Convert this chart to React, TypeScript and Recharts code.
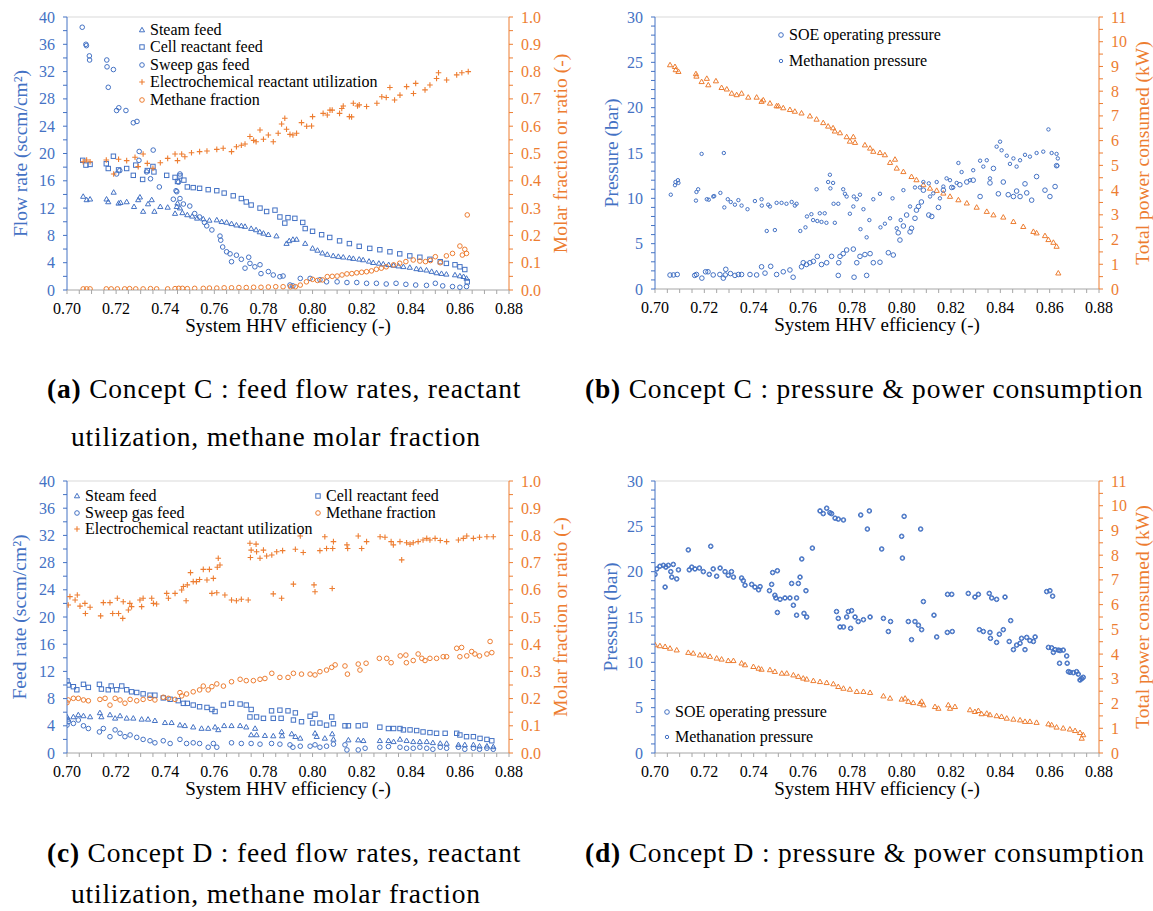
import React from 'react';
import { ScatterChart, Scatter, XAxis, YAxis, Legend, ReferenceLine } from 'recharts';

type P = [number, number];
type Kind = 'tri' | 'sq' | 'circ' | 'plus' | 'small' | 'bold';

const BLUE = '#4472C4';
const ORANGE = '#ED7D31';
const GRAY = '#A6A6A6';
const FONT = "'Liberation Serif', 'Times New Roman', Times, serif";

// ---------- tick labels ----------
const xMajor = [0.70, 0.72, 0.74, 0.76, 0.78, 0.80, 0.82, 0.84, 0.86, 0.88];
const xLabels = ['0.70', '0.72', '0.74', '0.76', '0.78', '0.80', '0.82', '0.84', '0.86', '0.88'];
const flowMajor = [0, 4, 8, 12, 16, 20, 24, 28, 32, 36, 40];
const flowLabels = ['0', '4', '8', '12', '16', '20', '24', '28', '32', '36', '40'];
const fracMajor = [0, 0.1, 0.2, 0.3, 0.4, 0.5, 0.6, 0.7, 0.8, 0.9, 1.0];
const fracLabels = ['0.0', '0.1', '0.2', '0.3', '0.4', '0.5', '0.6', '0.7', '0.8', '0.9', '1.0'];
const presMajor = [0, 5, 10, 15, 20, 25, 30];
const presLabels = ['0', '5', '10', '15', '20', '25', '30'];
const powMajor = [0, 1, 2, 3, 4, 5, 6, 7, 8, 9, 10, 11];
const powLabels = ['0', '1', '2', '3', '4', '5', '6', '7', '8', '9', '10', '11'];

// ---------- Concept C (a) ----------
const steamA: P[] = [[0.7066,13.7],[0.708,13.2],[0.7094,13.3],[0.7161,13.3],[0.7168,12.9],[0.719,14.3],[0.721,12.7],[0.7218,12.8],[0.7243,12.9],[0.7273,12.2],[0.729,13.2],[0.7297,13.6],[0.731,11.5],[0.733,12.6],[0.7345,13.2],[0.7356,11.5],[0.738,12.2],[0.741,12.1],[0.744,11.2],[0.7447,12.2],[0.745,12.7],[0.746,12.0],[0.747,11.3],[0.749,11.0],[0.751,10.8],[0.753,10.5],[0.7555,10.4],[0.758,10.2],[0.761,10.25],[0.763,10.0],[0.765,9.9],[0.767,9.7],[0.769,9.5],[0.771,9.4],[0.7725,9.3],[0.775,9.0],[0.777,8.8],[0.7785,8.5],[0.780,8.3],[0.782,8.1],[0.7853,7.9],[0.7894,6.8],[0.7905,7.2],[0.792,7.4],[0.7935,7.4],[0.797,6.8],[0.800,6.1],[0.802,5.8],[0.804,5.4],[0.806,5.2],[0.8084,5.0],[0.8105,4.9],[0.8125,4.8],[0.815,4.7],[0.8166,4.6],[0.819,4.5],[0.8206,4.4],[0.823,4.2],[0.8247,4.0],[0.827,3.9],[0.8288,3.8],[0.831,3.7],[0.833,3.6],[0.835,3.5],[0.837,3.4],[0.8396,3.3],[0.8423,3.1],[0.844,3.0],[0.8464,2.9],[0.8485,2.7],[0.8505,2.5],[0.8525,2.4],[0.8545,2.3],[0.858,2.2],[0.86,2.05],[0.8615,1.95],[0.8627,1.7]];
const cellA: P[] = [[0.7064,19.0],[0.7077,18.3],[0.7094,18.4],[0.716,18.5],[0.7168,17.8],[0.7189,19.6],[0.721,17.6],[0.7243,17.8],[0.727,16.8],[0.728,18.3],[0.7308,16.2],[0.7327,17.5],[0.735,18.1],[0.7354,17.3],[0.7406,16.8],[0.744,16.5],[0.745,15.9],[0.746,16.7],[0.7476,16.1],[0.749,15.1],[0.7514,15.0],[0.754,14.9],[0.7575,14.7],[0.761,14.55],[0.764,14.2],[0.7677,13.8],[0.771,13.4],[0.773,12.9],[0.775,12.45],[0.7786,12.0],[0.7813,11.5],[0.7847,11.7],[0.7867,10.7],[0.7887,9.8],[0.79,10.6],[0.7928,10.5],[0.796,9.9],[0.797,9.0],[0.80,8.6],[0.8037,8.1],[0.807,7.7],[0.811,7.2],[0.815,6.8],[0.819,6.4],[0.8233,6.1],[0.8274,5.9],[0.8315,5.6],[0.8355,5.3],[0.8396,5.0],[0.8437,4.8],[0.8478,4.5],[0.852,4.15],[0.8545,3.9],[0.858,3.7],[0.86,3.4],[0.862,3.0],[0.863,1.2]];
const sweepA: P[] = [[0.7062,38.5],[0.7077,36.0],[0.7079,35.8],[0.7091,34.3],[0.7092,33.7],[0.7162,33.7],[0.7163,32.7],[0.7189,32.3],[0.7168,29.7],[0.7202,26.3],[0.7211,26.7],[0.724,26.3],[0.727,24.5],[0.7285,24.7],[0.7294,20.3],[0.7293,19.0],[0.7351,20.5],[0.7202,17.0],[0.7215,17.5],[0.7324,17.3],[0.734,16.3],[0.7376,15.1],[0.7447,14.4],[0.7454,15.8],[0.746,17.0],[0.7444,14.55],[0.7433,13.3],[0.746,13.4],[0.7474,12.6],[0.75,12.3],[0.752,11.2],[0.754,10.7],[0.756,9.9],[0.7569,9.4],[0.759,8.8],[0.7623,7.9],[0.7626,7.3],[0.7634,6.3],[0.765,5.6],[0.7664,5.3],[0.767,4.15],[0.769,5.1],[0.771,4.5],[0.7725,3.2],[0.774,4.8],[0.7745,3.9],[0.7765,3.4],[0.7786,3.7],[0.779,2.4],[0.782,2.7],[0.784,2.2],[0.7867,1.95],[0.788,2.05],[0.7908,0.73],[0.792,0.6],[0.795,1.7],[0.799,1.7],[0.803,1.5],[0.8057,1.2],[0.81,1.2],[0.814,1.1],[0.818,1.1],[0.822,0.98],[0.826,0.98],[0.83,0.88],[0.834,0.98],[0.838,0.83],[0.842,0.73],[0.8464,0.68],[0.85,0.98],[0.853,0.6],[0.857,0.5],[0.86,0.4],[0.8627,0.5]];
const elecA: P[] = [[0.7066,0.47],[0.708,0.476],[0.7094,0.47],[0.716,0.476],[0.719,0.425],[0.721,0.479],[0.7243,0.474],[0.7277,0.486],[0.729,0.452],[0.731,0.498],[0.7327,0.464],[0.735,0.446],[0.738,0.466],[0.741,0.482],[0.744,0.498],[0.745,0.474],[0.7467,0.498],[0.748,0.488],[0.7507,0.503],[0.754,0.507],[0.757,0.509],[0.761,0.515],[0.7636,0.519],[0.767,0.507],[0.769,0.525],[0.771,0.53],[0.7725,0.535],[0.7745,0.562],[0.776,0.548],[0.777,0.543],[0.7786,0.586],[0.78,0.552],[0.782,0.568],[0.784,0.543],[0.786,0.574],[0.7874,0.608],[0.7887,0.629],[0.7894,0.589],[0.7908,0.57],[0.792,0.568],[0.7935,0.574],[0.7955,0.613],[0.7976,0.6],[0.7996,0.601],[0.80,0.635],[0.8043,0.647],[0.806,0.641],[0.8071,0.659],[0.808,0.659],[0.811,0.647],[0.8119,0.665],[0.8125,0.674],[0.815,0.635],[0.8159,0.634],[0.8166,0.684],[0.8183,0.674],[0.819,0.678],[0.822,0.672],[0.8262,0.684],[0.8282,0.708],[0.83,0.705],[0.8315,0.742],[0.8334,0.696],[0.8356,0.714],[0.8383,0.745],[0.8411,0.72],[0.842,0.757],[0.8458,0.733],[0.8478,0.751],[0.8505,0.775],[0.8513,0.796],[0.8546,0.769],[0.8587,0.788],[0.8608,0.796],[0.8634,0.8]];
const methA: P[] = [[0.7066,0.004],[0.708,0.004],[0.7094,0.004],[0.716,0.004],[0.718,0.004],[0.7205,0.004],[0.7235,0.004],[0.7255,0.005],[0.728,0.004],[0.731,0.004],[0.734,0.005],[0.7365,0.004],[0.741,0.004],[0.744,0.005],[0.7455,0.006],[0.747,0.006],[0.749,0.005],[0.752,0.006],[0.7555,0.006],[0.758,0.007],[0.761,0.007],[0.764,0.008],[0.767,0.008],[0.77,0.009],[0.773,0.009],[0.776,0.010],[0.779,0.010],[0.782,0.011],[0.785,0.012],[0.788,0.012],[0.791,0.012],[0.793,0.012],[0.795,0.018],[0.7975,0.03],[0.80,0.039],[0.802,0.035],[0.804,0.037],[0.806,0.049],[0.808,0.05],[0.81,0.051],[0.812,0.055],[0.814,0.059],[0.816,0.06],[0.818,0.063],[0.82,0.065],[0.822,0.067],[0.824,0.07],[0.826,0.076],[0.828,0.08],[0.830,0.085],[0.833,0.092],[0.8355,0.098],[0.838,0.104],[0.841,0.11],[0.8437,0.106],[0.846,0.104],[0.848,0.108],[0.85,0.122],[0.852,0.1],[0.8545,0.125],[0.857,0.134],[0.86,0.161],[0.861,0.128],[0.862,0.149],[0.8627,0.134],[0.863,0.275]];

// ---------- Concept C (b) ----------
const soeB: P[] = [[0.7061,1.54],[0.7075,1.55],[0.709,1.6],[0.7161,1.5],[0.7168,1.6],[0.719,1.2],[0.7205,1.9],[0.7215,1.9],[0.7236,1.55],[0.7263,1.6],[0.7277,1.2],[0.7285,1.55],[0.7287,2.17],[0.7306,1.7],[0.7324,1.5],[0.7338,1.6],[0.7351,1.6],[0.7385,1.6],[0.7412,1.55],[0.7432,2.45],[0.7446,1.75],[0.7469,2.5],[0.7493,1.6],[0.752,1.9],[0.7547,2.1],[0.756,1.3],[0.7594,2.45],[0.7601,2.9],[0.7614,2.7],[0.7628,2.9],[0.7642,3.05],[0.7658,3.6],[0.7675,2.7],[0.7696,2.9],[0.7716,3.6],[0.7743,1.5],[0.7745,2.9],[0.775,3.6],[0.7763,3.9],[0.7777,4.3],[0.7804,4.4],[0.7807,1.3],[0.7818,2.9],[0.7831,3.6],[0.7851,3.8],[0.7858,1.5],[0.7872,3.9],[0.7885,2.9],[0.7912,2.95],[0.7946,4.0],[0.7966,3.75],[0.7986,6.2],[0.7993,5.4],[0.8007,6.95],[0.802,8.16],[0.8034,6.3],[0.804,6.7],[0.8054,7.8],[0.806,8.7],[0.8068,9.1],[0.808,9.6],[0.8088,10.9],[0.811,8.16],[0.8122,8.0],[0.8149,9.0],[0.8169,10.9],[0.8203,11.2],[0.8236,11.5],[0.8264,11.8],[0.829,12.0],[0.8318,10.2],[0.8358,11.7],[0.8372,13.3],[0.8392,10.5],[0.8412,11.8],[0.8432,10.4],[0.8453,10.2],[0.8466,10.8],[0.848,10.2],[0.85,11.6],[0.8507,10.6],[0.8527,9.8],[0.8547,12.4],[0.8581,10.9],[0.8601,10.2],[0.8622,11.3],[0.8628,13.6]];
const methPB: P[] = [[0.7064,10.4],[0.7081,11.45],[0.7083,11.8],[0.7095,11.7],[0.7093,12.0],[0.7166,9.75],[0.7168,10.7],[0.7175,11.0],[0.7189,14.9],[0.721,9.9],[0.7218,9.85],[0.7236,10.2],[0.724,10.25],[0.7265,10.6],[0.7279,15.0],[0.7281,9.0],[0.7295,9.9],[0.7307,9.6],[0.7324,9.3],[0.7338,9.8],[0.7351,9.2],[0.7375,8.8],[0.7405,9.7],[0.7432,9.9],[0.7433,9.2],[0.7453,6.4],[0.7459,9.3],[0.7466,9.1],[0.7486,6.5],[0.7493,9.5],[0.7513,9.5],[0.7533,9.4],[0.7554,9.6],[0.7567,9.2],[0.7574,9.4],[0.7589,6.4],[0.761,6.8],[0.7616,8.0],[0.7634,8.25],[0.7641,7.6],[0.7655,11.0],[0.7658,7.5],[0.7668,8.35],[0.7675,7.4],[0.7688,8.35],[0.7695,7.3],[0.7702,11.8],[0.7709,12.6],[0.7711,11.1],[0.7722,11.7],[0.7724,9.4],[0.7729,7.3],[0.7743,9.4],[0.7763,11.0],[0.777,10.5],[0.7777,10.2],[0.779,8.3],[0.7804,9.1],[0.7806,10.2],[0.7818,9.9],[0.7831,10.4],[0.7833,6.6],[0.7845,8.8],[0.7858,5.7],[0.7869,7.6],[0.7885,9.9],[0.7912,10.5],[0.7914,6.8],[0.7932,7.2],[0.7953,7.8],[0.7963,10.0],[0.798,6.7],[0.7996,7.6],[0.8007,10.9],[0.8034,9.1],[0.8054,11.2],[0.8074,11.2],[0.8088,11.8],[0.811,11.65],[0.8115,10.2],[0.8128,10.55],[0.8142,11.8],[0.8155,10.0],[0.8169,11.3],[0.8182,12.2],[0.8196,12.0],[0.8209,11.2],[0.8223,11.7],[0.823,13.9],[0.8243,12.9],[0.8277,12.0],[0.829,13.1],[0.8318,14.15],[0.8331,13.5],[0.8345,14.2],[0.8358,12.2],[0.8385,15.7],[0.8399,16.25],[0.8405,15.3],[0.8426,14.7],[0.8439,13.8],[0.8453,14.4],[0.8466,13.5],[0.848,14.2],[0.85,14.8],[0.852,14.6],[0.8547,15.0],[0.8574,15.15],[0.8595,17.6],[0.8608,15.0],[0.8628,14.9],[0.8631,13.6],[0.8633,14.4]];
const powerB: P[] = [[0.7061,9.06],[0.7081,8.99],[0.7084,8.86],[0.7095,8.79],[0.7166,8.7],[0.7168,8.6],[0.7189,8.38],[0.721,8.51],[0.7216,8.25],[0.7247,8.41],[0.727,8.14],[0.7291,8.08],[0.7311,7.91],[0.7331,7.85],[0.7351,7.91],[0.7378,7.75],[0.7412,7.75],[0.7432,7.58],[0.7439,7.64],[0.7466,7.51],[0.7493,7.4],[0.75,7.40],[0.752,7.32],[0.7547,7.25],[0.7567,7.18],[0.7594,7.11],[0.7628,6.99],[0.7655,6.86],[0.7682,6.72],[0.7702,6.58],[0.7722,6.51],[0.7729,6.38],[0.775,6.31],[0.7777,6.15],[0.779,5.97],[0.7804,6.15],[0.7811,5.92],[0.7851,5.82],[0.7872,5.69],[0.7885,5.56],[0.7912,5.51],[0.7932,5.42],[0.7953,5.11],[0.7973,5.24],[0.798,4.88],[0.8007,4.74],[0.804,4.54],[0.806,4.41],[0.8088,4.21],[0.8115,4.07],[0.8142,3.98],[0.8169,3.87],[0.8196,3.74],[0.823,3.6],[0.8264,3.47],[0.8304,3.3],[0.8345,3.13],[0.8372,2.99],[0.8412,2.9],[0.8453,2.72],[0.8493,2.52],[0.8534,2.32],[0.8547,2.26],[0.8581,2.15],[0.8595,1.99],[0.8615,1.88],[0.8628,1.72],[0.8635,0.64]];

// ---------- Concept D (c) ----------
const steamC: P[] = [[0.700,5.3],[0.7005,4.95],[0.7026,5.3],[0.7046,5.6],[0.7067,5.45],[0.7094,5.3],[0.7134,5.9],[0.714,5.3],[0.7175,5.6],[0.7196,5.1],[0.7216,5.45],[0.7243,5.1],[0.727,5.1],[0.7304,4.95],[0.733,4.95],[0.7358,4.75],[0.7399,4.45],[0.7426,4.45],[0.746,4.1],[0.748,4.0],[0.7514,3.8],[0.7548,3.6],[0.7575,3.6],[0.7603,3.8],[0.7616,3.4],[0.764,4.0],[0.767,4.0],[0.7705,4.0],[0.773,3.8],[0.7766,3.6],[0.775,2.65],[0.7772,2.65],[0.7806,2.55],[0.784,2.5],[0.7874,3.1],[0.7876,2.5],[0.7915,2.8],[0.793,2.4],[0.795,2.15],[0.801,2.9],[0.8017,2.4],[0.805,2.15],[0.808,2.8],[0.8085,2.0],[0.8146,1.9],[0.8186,1.9],[0.8207,1.8],[0.8274,1.8],[0.8309,1.8],[0.833,1.65],[0.8356,2.0],[0.8383,1.8],[0.841,1.65],[0.8437,1.65],[0.8465,1.65],[0.849,1.5],[0.852,1.4],[0.8546,1.4],[0.8594,1.2],[0.862,1.2],[0.8655,1.2],[0.868,1.0],[0.871,1.0],[0.8736,0.9]];
const cellC: P[] = [[0.700,10.6],[0.7005,10.0],[0.7026,9.75],[0.704,9.3],[0.7067,10.1],[0.7087,9.65],[0.7132,10.1],[0.714,9.4],[0.7168,9.3],[0.718,9.85],[0.7202,9.3],[0.7223,9.85],[0.7243,9.3],[0.7263,9.0],[0.7284,8.9],[0.731,8.7],[0.7338,8.5],[0.7358,8.5],[0.7392,8.1],[0.742,7.9],[0.7453,7.7],[0.7474,7.3],[0.749,7.3],[0.7514,7.05],[0.754,6.8],[0.757,6.7],[0.759,6.4],[0.7603,6.1],[0.7637,7.05],[0.767,7.3],[0.7705,7.2],[0.773,7.05],[0.775,6.4],[0.7745,5.3],[0.7772,5.3],[0.78,5.1],[0.7833,6.2],[0.7867,6.3],[0.784,5.1],[0.7872,5.1],[0.79,6.2],[0.7922,4.85],[0.793,5.9],[0.7955,4.6],[0.799,5.4],[0.801,5.7],[0.80,4.4],[0.803,4.4],[0.8057,4.1],[0.8078,5.3],[0.8085,4.3],[0.8132,4.0],[0.8146,4.0],[0.8186,4.0],[0.8214,4.1],[0.8274,3.8],[0.8309,3.6],[0.833,3.6],[0.8356,3.6],[0.837,3.4],[0.8397,3.4],[0.8424,3.3],[0.845,3.1],[0.8478,3.0],[0.8505,2.9],[0.854,2.9],[0.8587,2.9],[0.86,2.65],[0.8627,2.4],[0.8655,2.4],[0.8682,2.15],[0.871,2.0],[0.873,1.8]];
const sweepC: P[] = [[0.700,4.1],[0.7005,4.6],[0.7026,4.35],[0.7046,4.85],[0.7067,4.0],[0.7087,3.6],[0.7132,3.1],[0.7148,3.6],[0.7175,2.4],[0.7196,3.4],[0.7216,2.9],[0.7236,2.4],[0.7257,2.65],[0.7284,2.3],[0.731,2.0],[0.7338,1.8],[0.7358,1.5],[0.7392,1.8],[0.742,1.4],[0.746,2.0],[0.7487,1.4],[0.7514,1.5],[0.754,1.4],[0.7575,0.85],[0.7596,1.4],[0.761,0.85],[0.767,1.5],[0.771,1.4],[0.775,1.4],[0.7786,1.3],[0.7833,1.4],[0.7867,1.3],[0.7908,1.2],[0.792,0.85],[0.795,1.0],[0.799,1.0],[0.801,1.2],[0.803,0.85],[0.8057,1.0],[0.8085,1.3],[0.8132,1.2],[0.814,0.45],[0.8186,0.45],[0.8214,0.7],[0.8274,0.85],[0.8309,0.95],[0.8356,0.85],[0.8383,0.7],[0.841,0.7],[0.8437,0.85],[0.8465,0.7],[0.849,0.55],[0.852,0.85],[0.8546,0.7],[0.8594,0.85],[0.862,0.55],[0.8655,0.7],[0.868,0.55],[0.871,0.7],[0.8736,0.55]];
const elecC: P[] = [[0.7005,0.544],[0.7012,0.575],[0.7033,0.5625],[0.7042,0.581],[0.7053,0.54],[0.7073,0.55],[0.7075,0.513],[0.7094,0.536],[0.7137,0.504],[0.7148,0.553],[0.7175,0.553],[0.7186,0.513],[0.7205,0.569],[0.721,0.513],[0.7227,0.495],[0.7229,0.556],[0.725,0.526],[0.7256,0.55],[0.7263,0.538],[0.7297,0.5625],[0.7304,0.538],[0.731,0.569],[0.7345,0.569],[0.7352,0.55],[0.7365,0.548],[0.7406,0.587],[0.7413,0.569],[0.744,0.587],[0.7467,0.599],[0.7474,0.612],[0.7485,0.56],[0.749,0.618],[0.7503,0.663],[0.7514,0.63],[0.7527,0.63],[0.754,0.638],[0.7555,0.675],[0.757,0.636],[0.758,0.675],[0.759,0.587],[0.7596,0.642],[0.761,0.589],[0.7612,0.683],[0.7616,0.716],[0.7623,0.691],[0.7643,0.581],[0.767,0.5625],[0.769,0.56],[0.771,0.565],[0.7738,0.5625],[0.7745,0.771],[0.775,0.746],[0.7747,0.719],[0.777,0.768],[0.7772,0.74],[0.7786,0.716],[0.78,0.746],[0.7813,0.724],[0.7834,0.728],[0.784,0.585],[0.7854,0.74],[0.7874,0.569],[0.7878,0.744],[0.7922,0.621],[0.793,0.749],[0.795,0.798],[0.7962,0.737],[0.8006,0.618],[0.801,0.593],[0.803,0.744],[0.805,0.795],[0.8057,0.752],[0.808,0.605],[0.8082,0.752],[0.8085,0.777],[0.814,0.765],[0.8143,0.752],[0.8186,0.798],[0.82,0.752],[0.822,0.777],[0.8275,0.795],[0.8295,0.793],[0.832,0.777],[0.8329,0.765],[0.8356,0.777],[0.8363,0.71],[0.8383,0.773],[0.8397,0.768],[0.841,0.773],[0.843,0.777],[0.845,0.783],[0.8465,0.789],[0.8478,0.783],[0.8499,0.789],[0.852,0.781],[0.8546,0.777],[0.8594,0.783],[0.8614,0.789],[0.8628,0.798],[0.8655,0.789],[0.868,0.793],[0.871,0.795],[0.8736,0.795]];
const methC: P[] = [[0.700,0.185],[0.7005,0.195],[0.7026,0.201],[0.7046,0.201],[0.7067,0.195],[0.7087,0.192],[0.7134,0.197],[0.7155,0.201],[0.7175,0.176],[0.7196,0.201],[0.7216,0.195],[0.7236,0.183],[0.7257,0.197],[0.7284,0.192],[0.731,0.197],[0.7338,0.201],[0.7358,0.195],[0.7392,0.205],[0.7413,0.201],[0.744,0.197],[0.746,0.222],[0.7467,0.21],[0.7487,0.217],[0.7514,0.225],[0.754,0.232],[0.7555,0.246],[0.7575,0.232],[0.759,0.244],[0.761,0.254],[0.7637,0.246],[0.767,0.262],[0.7705,0.271],[0.773,0.266],[0.7759,0.266],[0.7786,0.271],[0.7806,0.274],[0.7834,0.293],[0.7867,0.278],[0.79,0.278],[0.7922,0.293],[0.7955,0.29],[0.799,0.29],[0.801,0.287],[0.803,0.299],[0.8057,0.305],[0.8078,0.315],[0.8092,0.324],[0.8132,0.32],[0.8142,0.29],[0.8186,0.327],[0.8193,0.305],[0.8218,0.33],[0.8272,0.348],[0.8302,0.348],[0.832,0.332],[0.8357,0.357],[0.838,0.36],[0.8382,0.332],[0.841,0.34],[0.843,0.364],[0.8445,0.348],[0.8458,0.34],[0.8478,0.348],[0.8505,0.348],[0.8532,0.354],[0.8546,0.354],[0.8587,0.385],[0.8607,0.388],[0.86,0.354],[0.8628,0.357],[0.8648,0.373],[0.8661,0.364],[0.868,0.357],[0.871,0.364],[0.8723,0.41],[0.873,0.369]];

// ---------- Concept D (d) ----------
const soeD: P[] = [[0.700,19.7],[0.7007,20.3],[0.702,20.6],[0.7034,20.7],[0.7044,20.5],[0.7041,18.3],[0.7054,20.7],[0.7064,20.0],[0.7068,19.4],[0.7074,20.8],[0.7088,19.2],[0.7095,20.2],[0.7135,22.4],[0.7139,20.2],[0.7149,20.5],[0.7162,20.3],[0.718,20.4],[0.7196,20.0],[0.722,19.7],[0.7226,22.8],[0.7236,20.3],[0.725,19.5],[0.7264,20.4],[0.7284,20.0],[0.7297,19.6],[0.731,20.0],[0.7318,19.4],[0.7351,19.3],[0.7358,19.0],[0.7365,18.5],[0.7392,18.6],[0.7405,18.3],[0.742,18.0],[0.7426,18.35],[0.7464,17.9],[0.7473,18.6],[0.7477,19.9],[0.7496,20.1],[0.7486,17.4],[0.749,17.1],[0.7496,15.5],[0.7507,16.95],[0.7527,17.1],[0.7547,17.1],[0.7554,18.7],[0.7561,16.3],[0.7574,17.1],[0.7574,15.2],[0.7581,18.7],[0.7588,19.4],[0.7595,21.4],[0.7604,15.4],[0.7612,17.9],[0.7615,15.0],[0.7638,22.6],[0.7669,26.7],[0.7682,26.4],[0.7696,27.0],[0.7709,26.5],[0.7716,26.4],[0.773,25.9],[0.7743,25.8],[0.7764,25.7],[0.7736,15.6],[0.7743,14.85],[0.775,13.9],[0.7764,13.9],[0.7777,15.0],[0.7784,15.6],[0.7797,15.7],[0.7793,13.75],[0.7811,15.0],[0.7824,14.5],[0.7845,14.7],[0.7834,26.25],[0.7861,24.7],[0.7869,26.7],[0.7872,15.0],[0.7919,22.5],[0.7926,14.85],[0.7946,13.4],[0.7955,14.5],[0.80,23.9],[0.8003,21.5],[0.801,26.1],[0.8027,14.5],[0.804,12.5],[0.8054,14.5],[0.8068,14.1],[0.8077,24.7],[0.8081,13.6],[0.8088,16.7],[0.8131,15.2],[0.8142,12.8],[0.8186,17.5],[0.8203,17.5],[0.8185,13.3],[0.8205,13.4],[0.827,17.6],[0.8297,17.2],[0.8311,17.5],[0.8355,17.6],[0.8365,17.1],[0.8385,16.95],[0.8419,17.2],[0.8315,13.6],[0.8331,13.4],[0.8358,13.3],[0.836,12.65],[0.8385,12.2],[0.8396,13.1],[0.8412,13.6],[0.8436,12.3],[0.8442,14.6],[0.8453,11.4],[0.8466,11.9],[0.848,12.1],[0.8486,12.65],[0.85,11.4],[0.8507,12.75],[0.852,12.4],[0.8534,12.3],[0.8541,12.8],[0.8588,17.8],[0.8601,17.9],[0.8612,17.3],[0.8595,11.65],[0.8608,11.6],[0.8615,11.1],[0.8622,11.4],[0.8635,11.35],[0.8642,11.3],[0.8655,11.35],[0.864,9.9],[0.8669,10.7],[0.8671,9.9],[0.8676,8.97],[0.8683,8.9],[0.8696,8.86],[0.8709,8.97],[0.8716,8.7],[0.8723,8.05],[0.873,8.2],[0.8736,8.35]];
const methPD: P[] = soeD.map(([x, y]) => [x, y] as P);
const powerD: P[] = [[0.700,4.37],[0.702,4.33],[0.7041,4.3],[0.7061,4.23],[0.7088,4.16],[0.7135,4.06],[0.7155,4.03],[0.7182,3.96],[0.7202,3.95],[0.7223,3.9],[0.725,3.83],[0.727,3.79],[0.7297,3.73],[0.7318,3.73],[0.7351,3.63],[0.7365,3.56],[0.7399,3.49],[0.742,3.42],[0.7432,3.38],[0.7466,3.36],[0.7486,3.29],[0.7514,3.22],[0.7534,3.22],[0.7561,3.15],[0.7581,3.09],[0.7601,3.02],[0.7615,2.98],[0.7642,2.92],[0.7669,2.88],[0.7696,2.84],[0.7723,2.79],[0.7743,2.68],[0.7764,2.61],[0.779,2.57],[0.7818,2.48],[0.7845,2.48],[0.7872,2.44],[0.7926,2.3],[0.7953,2.21],[0.80,2.17],[0.8014,2.21],[0.8027,2.08],[0.8047,2.03],[0.8074,2.0],[0.8081,2.08],[0.8088,1.94],[0.8135,1.87],[0.8149,1.8],[0.8189,1.94],[0.8196,1.8],[0.8216,1.87],[0.8277,1.74],[0.8297,1.67],[0.8311,1.71],[0.8324,1.58],[0.8345,1.6],[0.8358,1.54],[0.8385,1.5],[0.8405,1.47],[0.8426,1.4],[0.8453,1.36],[0.848,1.33],[0.85,1.27],[0.852,1.27],[0.8547,1.23],[0.8595,1.17],[0.8608,1.13],[0.8628,1.04],[0.8655,1.0],[0.8682,0.96],[0.8703,0.9],[0.8723,0.82],[0.873,0.59],[0.8736,0.73]];

// ---------- helpers ----------
const pts = (a: P[]) => a.map(([x, y]) => ({ x, y }));
const withMinor = (majors: number[], parts: number) => {
  const out: number[] = [];
  for (let i = 0; i < majors.length; i++) {
    out.push(majors[i]);
    if (i < majors.length - 1) {
      const step = (majors[i + 1] - majors[i]) / parts;
      for (let k = 1; k < parts; k++) out.push(+(majors[i] + k * step).toFixed(6));
    }
  }
  return out;
};
const labelOf = (v: number, majors: number[], labels: string[]) => {
  const i = majors.findIndex((m) => Math.abs(m - v) < 1e-6);
  return i >= 0 ? labels[i] : null;
};

function marker(kind: Kind, cx: number, cy: number, color: string) {
  switch (kind) {
    case 'tri':
      return <path d={`M${cx},${cy - 2.7}L${cx + 2.6},${cy + 1.8}L${cx - 2.6},${cy + 1.8}Z`} fill="none" stroke={color} strokeWidth={1} />;
    case 'sq':
      return <rect x={cx - 2.2} y={cy - 2.2} width={4.4} height={4.4} fill="none" stroke={color} strokeWidth={1} />;
    case 'circ':
      return <circle cx={cx} cy={cy} r={2.3} fill="none" stroke={color} strokeWidth={1} />;
    case 'small':
      return <circle cx={cx} cy={cy} r={1.7} fill="none" stroke={color} strokeWidth={1} />;
    case 'bold':
      return <circle cx={cx} cy={cy} r={2.4} fill="none" stroke={color} strokeWidth={1.3} />;
    case 'plus':
    default:
      return <path d={`M${cx - 2.8},${cy}H${cx + 2.8}M${cx},${cy - 2.8}V${cy + 2.8}`} stroke={color} strokeWidth={1.1} fill="none" />;
  }
}

const xTick = (props: any) => {
  const { x, y, payload } = props;
  const lab = labelOf(payload.value, xMajor, xLabels);
  return (
    <g>
      <line x1={x} y1={y} x2={x} y2={y + 4} stroke={GRAY} strokeWidth={1} />
      {lab && (
        <text x={x} y={y + 18} textAnchor="middle" dominantBaseline="central" fontSize={16} fontFamily={FONT} fill="#000">{lab}</text>
      )}
    </g>
  );
};
const yTick = (majors: number[], labels: string[], side: 'L' | 'R', color: string) => (props: any) => {
  const { x, y, payload } = props;
  const lab = labelOf(payload.value, majors, labels);
  const s = side === 'L' ? -1 : 1;
  return (
    <g>
      <line x1={x} y1={y} x2={x + s * 4} y2={y} stroke={color} strokeWidth={1} />
      {lab && (
        <text x={x + s * 12} y={y} textAnchor={side === 'L' ? 'end' : 'start'} dominantBaseline="central" fontSize={16} fontFamily={FONT} fill={color}>{lab}</text>
      )}
    </g>
  );
};
const yTitle = (text: string, dx: number, color: string) => ({
  content: (p: any) => {
    const vb = p.viewBox || { x: 0, y: 0, width: 0, height: 0 };
    const cx = vb.x + dx;
    const cy = vb.y + vb.height / 2;
    return (
      <text x={cx} y={cy} transform={`rotate(-90 ${cx} ${cy})`} textAnchor="middle" dominantBaseline="central" fontSize={19.5} fontFamily={FONT} fill={color}>{text}</text>
    );
  },
});
const xTitle = {
  content: (p: any) => {
    const vb = p.viewBox || { x: 0, y: 0, width: 0, height: 0 };
    return (
      <text x={vb.x + vb.width / 2} y={vb.y + 35} textAnchor="middle" dominantBaseline="central" fontSize={19} fontFamily={FONT} fill="#000">System HHV efficiency (-)</text>
    );
  },
};

type Series = { data: P[]; axis: 'L' | 'R'; kind: Kind; color: string; name: string };
type LegItem = { label: string; kind: Kind; color: string; mx: number; my: number };
type Axis = { majors: number[]; labels: string[]; parts: number; title: string; dx: number };
type Cfg = {
  left: number; top: number; width: number; height: number;
  leftW: number; rightW: number; xH: number;
  yL: Axis; yR: Axis; series: Series[]; legend: LegItem[];
};

function Panel({ cfg }: { cfg: Cfg }) {
  const { yL, yR } = cfg;
  const legendContent = () => (
    <div style={{ position: 'relative', width: cfg.width, height: cfg.height, fontFamily: FONT, fontSize: 16, color: '#000', pointerEvents: 'none' }}>
      {cfg.legend.map((it, i) => (
        <React.Fragment key={i}>
          <svg width={10} height={10} style={{ position: 'absolute', left: it.mx - 5, top: it.my - 5, overflow: 'visible' }}>
            {marker(it.kind, 5, 5, it.color)}
          </svg>
          <span style={{ position: 'absolute', left: it.mx + 8, top: it.my, transform: 'translateY(-50%)', whiteSpace: 'nowrap', lineHeight: '18px' }}>{it.label}</span>
        </React.Fragment>
      ))}
    </div>
  );
  return (
    <div style={{ position: 'absolute', left: cfg.left, top: cfg.top }}>
      <ScatterChart width={cfg.width} height={cfg.height} margin={{ top: 17, right: 0, bottom: 0, left: 0 }}>
        <XAxis
          type="number" dataKey="x" domain={[0.7, 0.88]} ticks={withMinor(xMajor, 4)} interval={0}
          tick={xTick} tickLine={false} tickSize={0} tickMargin={0} height={cfg.xH}
          axisLine={{ stroke: GRAY }} allowDataOverflow label={xTitle}
        />
        <YAxis
          yAxisId="L" orientation="left" type="number" dataKey="y" width={cfg.leftW}
          domain={[yL.majors[0], yL.majors[yL.majors.length - 1]]} ticks={withMinor(yL.majors, yL.parts)} interval={0}
          tick={yTick(yL.majors, yL.labels, 'L', BLUE)} tickLine={false} tickSize={0} tickMargin={0}
          axisLine={{ stroke: BLUE }} allowDataOverflow label={yTitle(yL.title, yL.dx, BLUE)}
        />
        <YAxis
          yAxisId="R" orientation="right" type="number" dataKey="y" width={cfg.rightW}
          domain={[yR.majors[0], yR.majors[yR.majors.length - 1]]} ticks={withMinor(yR.majors, yR.parts)} interval={0}
          tick={yTick(yR.majors, yR.labels, 'R', ORANGE)} tickLine={false} tickSize={0} tickMargin={0}
          axisLine={{ stroke: ORANGE }} allowDataOverflow label={yTitle(yR.title, yR.dx, ORANGE)}
        />
        <ReferenceLine yAxisId="L" y={yL.majors[yL.majors.length - 1]} stroke="#D9D9D9" strokeWidth={1} />
        {cfg.series.map((s, i) => (
          <Scatter
            key={i} name={s.name} data={pts(s.data)} yAxisId={s.axis} isAnimationActive={false}
            shape={(p: any) => marker(s.kind, p.cx, p.cy, s.color)}
          />
        ))}
        <Legend
          layout="vertical" align="center" verticalAlign="middle" content={legendContent}
          wrapperStyle={{ position: 'absolute', left: 0, top: 0, width: cfg.width, height: cfg.height, pointerEvents: 'none' }}
        />
      </ScatterChart>
    </div>
  );
}

const flowAxis = (title: string): Axis => ({ majors: flowMajor, labels: flowLabels, parts: 2, title, dx: 20 });
const fracAxis: Axis = { majors: fracMajor, labels: fracLabels, parts: 2, title: 'Molar fraction or ratio (-)', dx: 51 };
const presAxis: Axis = { majors: presMajor, labels: presLabels, parts: 5, title: 'Pressure (bar)', dx: 21 };
const powAxis: Axis = { majors: powMajor, labels: powLabels, parts: 2, title: 'Total power consumed (kW)', dx: 43 };

const cfgA: Cfg = {
  left: 0, top: 0, width: 600, height: 340, leftW: 67, rightW: 91, xH: 50,
  yL: flowAxis('Flow rate (sccm/cm²)'), yR: fracAxis,
  series: [
    { data: steamA, axis: 'L', kind: 'tri', color: BLUE, name: 'Steam feed' },
    { data: cellA, axis: 'L', kind: 'sq', color: BLUE, name: 'Cell reactant feed' },
    { data: sweepA, axis: 'L', kind: 'circ', color: BLUE, name: 'Sweep gas feed' },
    { data: elecA, axis: 'R', kind: 'plus', color: ORANGE, name: 'Electrochemical reactant utilization' },
    { data: methA, axis: 'R', kind: 'circ', color: ORANGE, name: 'Methane fraction' },
  ],
  legend: [
    { label: 'Steam feed', kind: 'tri', color: BLUE, mx: 142, my: 29.5 },
    { label: 'Cell reactant feed', kind: 'sq', color: BLUE, mx: 142, my: 47 },
    { label: 'Sweep gas feed', kind: 'circ', color: BLUE, mx: 142, my: 64.5 },
    { label: 'Electrochemical reactant utilization', kind: 'plus', color: ORANGE, mx: 142, my: 82 },
    { label: 'Methane fraction', kind: 'circ', color: ORANGE, mx: 142, my: 99.5 },
  ],
};
const cfgB: Cfg = {
  left: 590, top: 0, width: 563, height: 340, leftW: 65, rightW: 54, xH: 51,
  yL: presAxis, yR: powAxis,
  series: [
    { data: powerB, axis: 'R', kind: 'tri', color: ORANGE, name: 'Total power consumed' },
    { data: soeB, axis: 'L', kind: 'circ', color: BLUE, name: 'SOE operating pressure' },
    { data: methPB, axis: 'L', kind: 'small', color: BLUE, name: 'Methanation pressure' },
  ],
  legend: [
    { label: 'SOE operating pressure', kind: 'circ', color: BLUE, mx: 191, my: 35 },
    { label: 'Methanation pressure', kind: 'small', color: BLUE, mx: 191, my: 61 },
  ],
};
const cfgC: Cfg = {
  left: 0, top: 464, width: 600, height: 340, leftW: 67, rightW: 91, xH: 51,
  yL: { ...flowAxis('Feed rate (sccm/cm²)'), dx: 19 }, yR: fracAxis,
  series: [
    { data: steamC, axis: 'L', kind: 'tri', color: BLUE, name: 'Steam feed' },
    { data: cellC, axis: 'L', kind: 'sq', color: BLUE, name: 'Cell reactant feed' },
    { data: sweepC, axis: 'L', kind: 'circ', color: BLUE, name: 'Sweep gas feed' },
    { data: elecC, axis: 'R', kind: 'plus', color: ORANGE, name: 'Electrochemical reactant utilization' },
    { data: methC, axis: 'R', kind: 'circ', color: ORANGE, name: 'Methane fraction' },
  ],
  legend: [
    { label: 'Steam feed', kind: 'tri', color: BLUE, mx: 77, my: 32 },
    { label: 'Sweep gas feed', kind: 'circ', color: BLUE, mx: 77, my: 48.7 },
    { label: 'Electrochemical reactant utilization', kind: 'plus', color: ORANGE, mx: 77, my: 65.3 },
    { label: 'Cell reactant feed', kind: 'sq', color: BLUE, mx: 318, my: 31.5 },
    { label: 'Methane fraction', kind: 'circ', color: ORANGE, mx: 318, my: 49.3 },
  ],
};
const cfgD: Cfg = {
  left: 590, top: 464, width: 563, height: 340, leftW: 65, rightW: 54, xH: 51,
  yL: { ...presAxis, dx: 20 }, yR: powAxis,
  series: [
    { data: powerD, axis: 'R', kind: 'tri', color: ORANGE, name: 'Total power consumed' },
    { data: soeD, axis: 'L', kind: 'circ', color: BLUE, name: 'SOE operating pressure' },
    { data: methPD, axis: 'L', kind: 'small', color: BLUE, name: 'Methanation pressure' },
  ],
  legend: [
    { label: 'SOE operating pressure', kind: 'circ', color: BLUE, mx: 77, my: 247.7 },
    { label: 'Methanation pressure', kind: 'small', color: BLUE, mx: 77, my: 272.7 },
  ],
};

const capStyle: React.CSSProperties = { position: 'absolute', fontFamily: FONT, fontSize: 27.5, letterSpacing: '0.8px', lineHeight: '24px', whiteSpace: 'nowrap', color: '#000' };

export default function App() {
  return (
    <div style={{ position: 'absolute', left: 0, top: 0, width: 1153, height: 911, background: '#fff', overflow: 'hidden' }}>
      <Panel cfg={cfgA} />
      <Panel cfg={cfgB} />
      <Panel cfg={cfgC} />
      <Panel cfg={cfgD} />
      <div style={{ ...capStyle, left: 47, top: 377 }}><b>(a)</b> Concept C : feed flow rates, reactant</div>
      <div style={{ ...capStyle, left: 71, top: 425 }}>utilization, methane molar fraction</div>
      <div style={{ ...capStyle, left: 585, top: 377 }}><b>(b)</b> Concept C : pressure &amp; power consumption</div>
      <div style={{ ...capStyle, left: 47, top: 841 }}><b>(c)</b> Concept D : feed flow rates, reactant</div>
      <div style={{ ...capStyle, left: 71, top: 882 }}>utilization, methane molar fraction</div>
      <div style={{ ...capStyle, left: 585, top: 841 }}><b>(d)</b> Concept D : pressure &amp; power consumption</div>
    </div>
  );
}
